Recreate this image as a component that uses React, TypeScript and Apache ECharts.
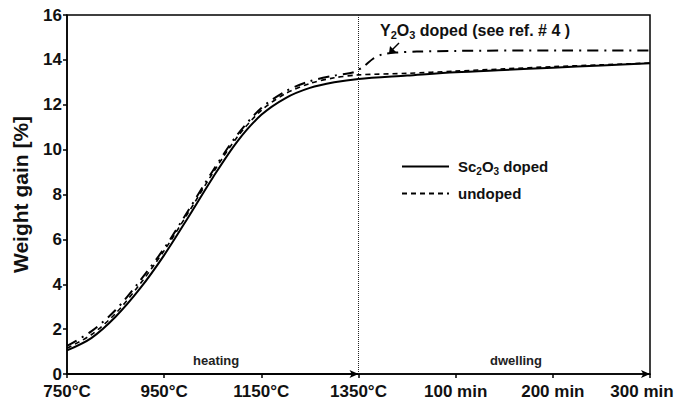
import React, { useEffect, useRef } from "react";
import * as echarts from "echarts";

// x positions: 0=750°C, 1=950°C, 2=1150°C, 3=1350°C, 4=100 min, 5=200 min, 6=300 min
const X_TICK_LABELS = ["750°C", "950°C", "1150°C", "1350°C", "100 min", "200 min", "300 min"];

const SC_X = [0, 0.25, 0.5, 0.75, 1.0, 1.25, 1.5, 1.75, 2.0, 2.25, 2.5, 2.75, 3.0, 3.5, 4, 4.5, 5, 5.5, 6];
const SC_Y = [1.05, 1.6, 2.55, 3.8, 5.3, 7.0, 8.75, 10.35, 11.55, 12.3, 12.75, 13.0, 13.15, 13.3, 13.45, 13.55, 13.65, 13.75, 13.85];

const UN_X = [0, 0.25, 0.5, 0.75, 1.0, 1.25, 1.5, 1.75, 2.0, 2.25, 2.5, 2.75, 3.0, 3.5, 4, 4.5, 5, 5.5, 6];
const UN_Y = [1.15, 1.75, 2.7, 4.0, 5.5, 7.2, 8.95, 10.55, 11.75, 12.5, 12.95, 13.2, 13.33, 13.4, 13.5, 13.6, 13.7, 13.78, 13.86];

const Y2_X = [0, 0.25, 0.5, 0.75, 1.0, 1.25, 1.5, 1.75, 2.0, 2.25, 2.5, 2.75, 2.95, 3.05, 3.15, 3.25, 3.4, 3.6, 4, 5, 6];
const Y2_Y = [1.25, 1.9, 2.85, 4.15, 5.6, 7.3, 9.05, 10.65, 11.85, 12.6, 13.05, 13.3, 13.45, 13.7, 14.05, 14.25, 14.33, 14.37, 14.4, 14.42, 14.42];

const SERIES_NAMES = ["Sc2O3 doped", "undoped", "Y2O3 doped"];

const FONT = "Liberation Sans, Arial, sans-serif";

const zip = (xs: number[], ys: number[]) => xs.map((x, i) => [x, ys[i]]);

export default function App() {
  const ref = useRef<HTMLDivElement>(null);
  useEffect(() => {
    if (!ref.current) return;
    const chart = echarts.init(ref.current, null, { renderer: "svg" });
    const rich = {
      b: { fontSize: 15, fontWeight: "bold", fontFamily: FONT, color: "#111" },
      s: { fontSize: 10, fontWeight: "bold", fontFamily: FONT, color: "#111", padding: [9, 0, 0, 0] },
    };
    chart.setOption({
      animation: false,
      backgroundColor: "#fff",
      grid: {
        left: 67,
        top: 15,
        width: 583,
        height: 359,
        show: true,
        borderColor: "#000",
        borderWidth: 1.5,
        containLabel: false,
        outerBoundsMode: "none",
      },
      xAxis: {
        type: "value",
        min: 0,
        max: 6,
        interval: 1,
        splitLine: { show: false },
        axisLine: { lineStyle: { color: "#000", width: 1.5 }, symbol: ["none", "arrow"], symbolSize: [6, 9] },
        axisTick: { inside: false, length: 4, lineStyle: { color: "#000", width: 1.5 } },
        axisLabel: {
          margin: 9,
          fontSize: 17,
          lineHeight: 17,
          fontWeight: "bold",
          fontFamily: FONT,
          color: "#111",
          formatter: (v: number) => {
            const i = Math.round(v);
            return i === 6 ? "{last|" + X_TICK_LABELS[i] + "}" : X_TICK_LABELS[i];
          },
          rich: { last: { fontSize: 17, lineHeight: 17, fontWeight: "bold", fontFamily: FONT, color: "#111", padding: [0, 16, 0, 0] } },
        },
      },
      yAxis: {
        type: "value",
        min: 0,
        max: 16,
        interval: 2,
        name: "Weight gain [%]",
        nameLocation: "middle",
        nameGap: 36,
        nameTextStyle: { fontSize: 21, fontWeight: "bold", fontFamily: FONT, color: "#111" },
        splitLine: { show: false },
        axisLine: { lineStyle: { color: "#000", width: 1.5 } },
        axisTick: { inside: false, length: 4, lineStyle: { color: "#000", width: 1.5 } },
        axisLabel: { margin: 5, fontSize: 17, lineHeight: 15, fontWeight: "bold", fontFamily: FONT, color: "#111" },
      },
      legend: {
        data: [SERIES_NAMES[0], SERIES_NAMES[1]],
        orient: "vertical",
        left: 396,
        top: 154,
        itemWidth: 47,
        itemHeight: 14,
        itemGap: 10,
        itemStyle: { opacity: 0 },
        textStyle: { rich, padding: [0, 0, 0, 4] },
        formatter: (name: string) =>
          name === SERIES_NAMES[0] ? "{b|Sc}{s|2}{b|O}{s|3}{b| doped}" : "{b|undoped}",
      },
      series: [
        {
          name: SERIES_NAMES[0],
          type: "line",
          data: zip(SC_X, SC_Y),
          smooth: 0.3,
          symbol: "none",
          lineStyle: { color: "#000", width: 2, type: "solid" },
          itemStyle: { color: "#000" },
          markLine: {
            silent: true,
            symbol: "none",
            label: { show: false },
            lineStyle: { color: "#222", width: 1, type: "dotted" },
            data: [{ xAxis: 3 }],
          },
        },
        {
          name: SERIES_NAMES[1],
          type: "line",
          data: zip(UN_X, UN_Y),
          smooth: 0.3,
          symbol: "none",
          lineStyle: { color: "#000", width: 1.6, type: [5, 4] },
          itemStyle: { color: "#000" },
          markLine: {
            silent: true,
            symbol: ["none", "arrow"],
            symbolSize: [6, 9],
            label: { show: false },
            lineStyle: { color: "#000", width: 1.5, type: "solid" },
            data: [[{ coord: [0, 0] }, { coord: [3, 0] }]],
          },
        },
        {
          name: SERIES_NAMES[2],
          type: "line",
          data: zip(Y2_X, Y2_Y),
          smooth: 0.3,
          symbol: "none",
          lineStyle: { color: "#000", width: 2, type: [11, 6, 2, 6] },
          itemStyle: { color: "#000" },
        },
      ],
      graphic: [
        {
          type: "text",
          left: 380,
          top: 22,
          style: {
            text: "{b|Y}{s|2}{b|O}{s|3}{b| doped (see ref. # 4 )}",
            rich: {
              b: { fontSize: 16, fontWeight: "bold", fontFamily: FONT, fill: "#111" },
              s: { fontSize: 11, fontWeight: "bold", fontFamily: FONT, fill: "#111", padding: [9, 0, 0, 0] },
            },
          },
        },
        {
          type: "line",
          shape: { x1: 399, y1: 43, x2: 391, y2: 51 },
          style: { stroke: "#000", lineWidth: 1.5 },
        },
        {
          type: "polygon",
          shape: { points: [[389, 53], [390, 46], [396, 52]] },
          style: { fill: "#000" },
        },
        {
          type: "text",
          left: 193,
          top: 354,
          style: { text: "heating", fontSize: 13, fontWeight: "bold", fontFamily: FONT, fill: "#222" },
        },
        {
          type: "text",
          left: 490,
          top: 354,
          style: { text: "dwelling", fontSize: 13, fontWeight: "bold", fontFamily: FONT, fill: "#222" },
        },
      ],
    });
    return () => chart.dispose();
  }, []);
  return <div ref={ref} style={{ width: 680, height: 401, position: "absolute", left: 0, top: 0 }} />;
}
